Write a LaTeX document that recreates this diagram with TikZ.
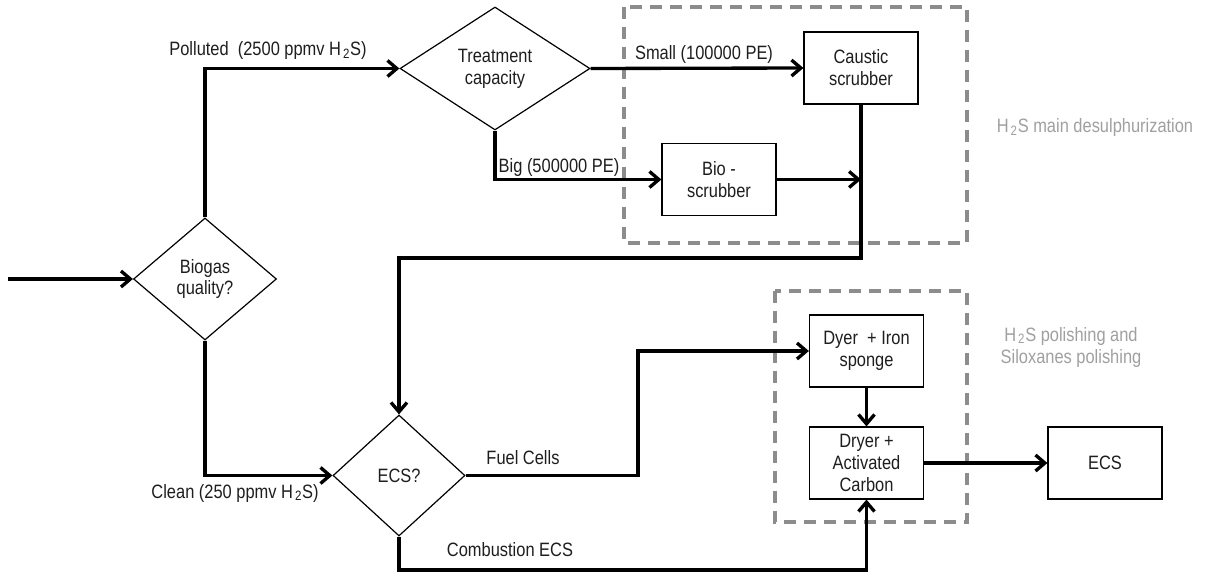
\documentclass[tikz,border=0pt]{standalone}
\usepackage{fontspec}
\setmainfont{Liberation Sans}[FakeStretch=0.85]
\usetikzlibrary{shapes.geometric,arrows.meta}
\definecolor{dashgray}{RGB}{140,140,140}
\definecolor{txtgray}{RGB}{160,160,160}
\definecolor{txtdark}{RGB}{30,30,30}
\newcommand{\HtwoS}{H\kern1.5pt\textsubscript{2}S}
\tikzset{
  decision/.style={diamond, draw, line width=0.9pt, inner sep=0pt, align=center, text=txtdark},
  procbox/.style={rectangle, draw, line width=0.9pt, minimum width=85.5pt, minimum height=54pt, inner sep=0pt, align=center, text=txtdark},
  flow/.style={line width=2.5pt, -{Straight Barb[length=7pt,width=12pt]}},
  groupbox/.style={draw=dashgray, line width=2.5pt, dash pattern=on 9pt off 6pt},
  lbl/.style={text=txtdark, inner sep=0pt},
  grouplbl/.style={text=txtgray, inner sep=0pt, align=center},
}
\begin{document}
\begin{tikzpicture}[x=0.75pt,y=-0.75pt,font=\fontsize{14.5pt}{16.5pt}\selectfont]
\useasboundingbox[fill=white] (0,0) rectangle (1206,574);
% group boxes
\draw[groupbox] (624,7) rectangle (967,243);
\draw[groupbox] (775,291) rectangle (967,522);
% nodes
\node[decision, minimum width=107.25pt, minimum height=91.5pt] (biogas) at (205,279) {Biogas\\quality?};
\node[decision, minimum width=142.5pt, minimum height=92.25pt] (treat) at (495,68.5) {Treatment\\capacity};
\node[decision, minimum width=99pt, minimum height=90.75pt] (ecs) at (399,475.5) {ECS?};
\node[procbox] (caustic) at (861,68) {Caustic\\scrubber};
\node[procbox] (bio) at (719,179.5) {Bio -\\scrubber};
\node[procbox] (sponge) at (866.5,351) {Dyer \ + Iron\\sponge};
\node[procbox] (dryer) at (866.5,463) {Dryer +\\Activated\\Carbon};
\node[procbox] (ecsbox) at (1105,463) {ECS};
% coordinates
\coordinate (in) at (8,279);
\coordinate (bjoin) at (861,179.5);
\coordinate (ret) at (861,258);
\coordinate (fcturn) at (638,351);
\coordinate (comb) at (866.5,570);
% connectors
\draw[flow] (in) -- (biogas.west);
\draw[flow] (biogas.north) |- (treat.west);
\draw[flow] (treat.east) -- (caustic.west);
\draw[flow] (treat.south) |- (bio.west);
\draw[flow] (bio.east) -- (bjoin);
\draw[flow] (caustic.south) -- (ret) -| (ecs.north);
\draw[flow] (biogas.south) |- (ecs.west);
\draw[flow] (ecs.east) -| (fcturn) -- (sponge.west);
\draw[flow] (sponge.south) -- (dryer.north);
\draw[flow] (dryer.east) -- (ecsbox.west);
\draw[flow] (ecs.south) |- (comb) -- (dryer.south);
% labels
\node[lbl] (lpol) at (268,51) {Polluted \ (2500 ppmv \HtwoS)};
\node[lbl] (lsmall) at (704,54) {Small (100000 PE)};
\node[lbl] (lbig) at (559,168) {Big (500000 PE)};
\node[lbl] (lclean) at (235,493) {Clean (250 ppmv \HtwoS)};
\node[lbl] (lfuel) at (523,458) {Fuel Cells};
\node[lbl] (lcomb) at (510,550) {Combustion ECS};
\node[grouplbl] (lmain) at (1095,128) {\HtwoS\ main desulphurization};
\node[grouplbl] (lpolish) at (1071,347) {\HtwoS\ polishing and\\Siloxanes polishing};
\end{tikzpicture}
\end{document}
